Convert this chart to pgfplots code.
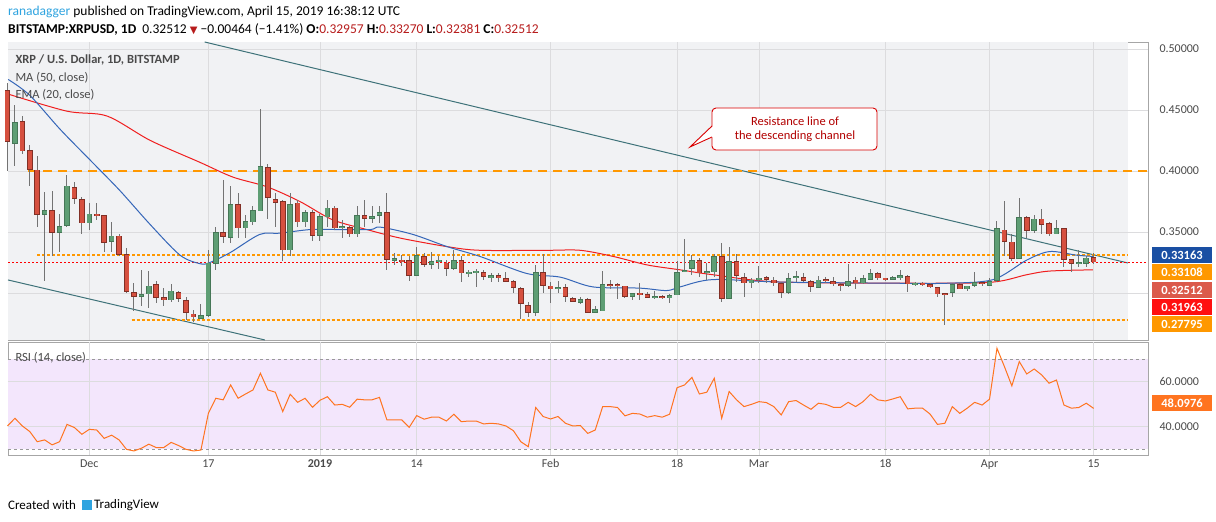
\documentclass[border=0pt]{standalone}
\usepackage{pgfplots}
\usepackage{pgfplotstable}
\pgfplotsset{compat=1.18}
\usepackage{fontspec}
\setmainfont{Carlito}
\newfontfamily\dejavu{DejaVu Sans}
\definecolor{gbody}{HTML}{5E9E74}
\definecolor{rbody}{HTML}{D6503F}
\definecolor{wick}{HTML}{737373}
\definecolor{emab}{HTML}{3566B8}
\definecolor{mar}{HTML}{F01E1E}
\definecolor{chan}{HTML}{3E7279}
\definecolor{org}{HTML}{FF9800}
\definecolor{panel}{HTML}{F1F2F4}
\definecolor{gridc}{HTML}{DCDCDE}
\definecolor{txt}{HTML}{4A4A4A}
\definecolor{rsif}{HTML}{F3E6FC}
\definecolor{rsil}{HTML}{FF7420}
\definecolor{tvblue}{HTML}{2FA4E0}
\definecolor{valred}{HTML}{B71C1C}
\definecolor{bxa}{HTML}{1A4FA3}
\definecolor{bxb}{HTML}{FF9800}
\definecolor{bxc}{HTML}{DB5A4B}
\definecolor{bxd}{HTML}{FF1010}

\pgfplotstableread{
d o h l c
0 .466 .472 .400 .424
1 .422 .454 .404 .440
2 .441 .445 .414 .416
3 .417 .421 .388 .401
4 .401 .412 .354 .364
5 .364 .383 .310 .368
6 .368 .384 .330 .349
7 .349 .365 .334 .355
8 .355 .397 .354 .388
9 .387 .391 .373 .377
10 .377 .379 .348 .357
11 .357 .374 .352 .365
12 .365 .374 .360 .363
13 .364 .364 .334 .341
14 .342 .358 .334 .347
15 .347 .348 .330 .331
16 .332 .337 .300 .301
17 .301 .308 .285 .297
18 .297 .319 .289 .299
19 .299 .318 .288 .306
20 .307 .310 .292 .296
21 .296 .304 .289 .295
22 .294 .307 .293 .302
23 .301 .302 .293 .295
24 .294 .297 .278 .284
25 .283 .286 .276 .280
26 .279 .291 .279 .282
27 .281 .335 .280 .325
28 .324 .354 .319 .350
29 .350 .393 .341 .346
30 .345 .388 .341 .373
31 .373 .382 .345 .353
32 .353 .364 .345 .359
33 .358 .371 .356 .368
34 .367 .451 .367 .404
35 .403 .406 .361 .378
36 .377 .382 .354 .374
37 .375 .376 .326 .335
38 .335 .382 .330 .373
39 .374 .376 .354 .358
40 .358 .368 .354 .366
41 .366 .368 .343 .347
42 .347 .365 .343 .363
43 .362 .376 .354 .370
44 .370 .371 .352 .353
45 .353 .360 .345 .355
46 .354 .355 .346 .348
47 .348 .371 .346 .364
48 .364 .376 .354 .361
49 .361 .371 .357 .363
50 .363 .371 .357 .366
51 .366 .382 .319 .327
52 .327 .333 .323 .328
53 .327 .331 .322 .326
54 .327 .330 .310 .314
55 .314 .338 .314 .331
56 .330 .333 .321 .323
57 .323 .334 .320 .326
58 .326 .330 .320 .327
59 .325 .327 .314 .320
60 .320 .335 .319 .327
61 .327 .330 .309 .316
62 .316 .319 .313 .317
63 .317 .320 .305 .3175
64 .317 .319 .311 .313
65 .313 .316 .309 .314
66 .314 .316 .309 .313
67 .312 .317 .309 .309
68 .310 .311 .300 .304
69 .304 .305 .279 .291
70 .290 .293 .280 .284
71 .284 .323 .281 .317
72 .317 .332 .300 .306
73 .306 .309 .292 .303
74 .303 .310 .300 .305
75 .305 .307 .293 .297
76 .296 .297 .293 .293
77 .292 .297 .291 .295
78 .295 .296 .284 .284
79 .284 .289 .284 .287
80 .285 .318 .285 .307
81 .307 .311 .303 .306
82 .307 .308 .295 .306
83 .306 .306 .296 .297
84 .297 .300 .294 .300
85 .300 .308 .294 .299
86 .299 .301 .296 .296
87 .296 .302 .295 .297
88 .297 .298 .295 .296
89 .296 .299 .292 .298
90 .298 .326 .298 .317
91 .317 .344 .317 .319
92 .320 .331 .315 .327
93 .327 .329 .313 .316
94 .316 .325 .311 .318
95 .317 .332 .313 .330
96 .330 .341 .293 .295
97 .295 .338 .295 .326
98 .326 .332 .309 .314
99 .313 .316 .297 .308
100 .308 .312 .304 .311
101 .311 .322 .308 .312
102 .313 .314 .308 .311
103 .311 .313 .306 .308
104 .308 .309 .296 .300
105 .300 .316 .299 .312
106 .312 .318 .309 .314
107 .313 .316 .309 .310
108 .310 .311 .301 .305
109 .304 .314 .304 .311
110 .311 .313 .308 .310
111 .310 .313 .306 .307
112 .307 .308 .302 .306
113 .306 .324 .305 .310
114 .311 .313 .303 .308
115 .308 .315 .307 .312
116 .311 .320 .311 .316
117 .316 .317 .311 .312
118 .312 .312 .310 .311
119 .311 .314 .311 .313
120 .313 .319 .311 .314
121 .314 .315 .301 .307
122 .307 .309 .306 .308
123 .308 .309 .306 .307
124 .307 .308 .304 .305
125 .305 .305 .297 .299
126 .2992 .2995 .274 .299
127 .300 .308 .297 .307
128 .307 .308 .303 .303
129 .303 .306 .302 .306
130 .306 .317 .305 .309
131 .309 .309 .306 .307
132 .306 .312 .306 .310
133 .310 .359 .309 .353
134 .352 .375 .330 .342
135 .342 .348 .326 .328
136 .328 .378 .329 .362
137 .362 .363 .345 .351
138 .351 .364 .349 .361
139 .361 .369 .348 .356
140 .357 .358 .347 .348
141 .348 .360 .348 .353
142 .353 .353 .321 .327
143 .328 .328 .317 .324
144 .324 .335 .321 .325
145 .324 .330 .321 .329
146 .3296 .3327 .3238 .3251
}\candles

\pgfplotstableread{
d v
0 40.3
1 43.7
2 40.3
3 37.8
4 33.3
5 34.1
6 31.9
7 33.3
8 41.0
9 39.6
10 36.6
11 38.8
12 38.5
13 34.8
14 36.2
15 34.1
16 29.9
17 29.2
18 30.4
19 32.2
20 30.7
21 30.7
22 33.0
23 31.6
24 29.9
25 29.2
26 29.6
27 45.9
28 52.6
29 51.9
30 58.5
31 52.6
32 54.5
33 56.3
34 63.7
35 56.3
36 55.3
37 46.7
38 54.4
39 50.8
40 52.6
41 48.6
42 51.7
43 53.3
44 49.6
45 49.9
46 48.6
47 52.2
48 51.9
49 51.9
50 53.0
51 43.0
52 43.0
53 43.0
54 39.7
55 44.9
56 43.3
57 44.2
58 44.2
59 42.5
60 45.5
61 42.2
62 42.5
63 42.5
64 41.2
65 41.5
66 41.2
67 40.3
68 38.2
69 33.3
70 31.1
71 48.5
72 44.5
73 43.4
74 44.5
75 41.5
76 40.3
77 40.5
78 37.0
79 38.5
80 48.9
81 48.9
82 48.5
83 44.8
84 45.9
85 45.6
86 44.2
87 44.9
88 44.2
89 45.5
90 57.3
91 58.5
92 61.9
93 54.5
94 55.3
95 61.5
96 43.7
97 55.6
98 51.9
99 48.9
100 49.9
101 51.1
102 50.7
103 48.9
104 45.2
105 51.1
106 51.6
107 49.6
108 47.7
109 50.4
110 49.9
111 48.6
112 48.6
113 50.8
114 48.9
115 51.1
116 54.4
117 51.9
118 51.4
119 52.3
120 53.3
121 47.9
122 48.2
123 48.2
124 45.6
125 41.0
126 41.5
127 48.9
128 45.9
129 48.2
130 50.8
131 49.6
132 52.2
133 74.8
134 66.7
135 58.1
136 68.9
137 63.4
138 65.6
139 63.0
140 59.3
141 60.7
142 49.6
143 48.2
144 48.5
145 50.4
146 48.1
}\rsi

\pgfplotstableread{
d v
0.1 0.475
3.0 0.462
7.1 0.434
11.1 0.409
15.1 0.384
19.2 0.356
23.2 0.331
25.9 0.324
27.2 0.325
29.9 0.333
33.9 0.348
36.6 0.349
40.7 0.352
44.7 0.352
48.8 0.352
50.1 0.354
54.5 0.348
59.1 0.338
63.5 0.330
69.8 0.316
74.3 0.313
78.7 0.305
85.0 0.304
88.6 0.302
90.4 0.305
94.8 0.311
103.8 0.309
120 0.308
126.3 0.308
132.5 0.311
137.0 0.327
140.1 0.334
143.7 0.331
145.9 0.330
}\ema

\pgfplotstableread{
d v
0.1 0.463
8.0 0.449
13.4 0.445
19.2 0.425
25.9 0.407
30.3 0.395
34.9 0.387
39.3 0.375
43.7 0.360
48.3 0.352
52.8 0.345
59.1 0.338
63.5 0.335
72.5 0.335
77.0 0.335
81.4 0.330
86.0 0.323
90.4 0.319
94.8 0.315
103.8 0.309
123.6 0.308
132.5 0.309
137.0 0.315
140.1 0.318
145.9 0.319
}\ma

\begin{document}
\begin{tikzpicture}[x=1pt,y=1pt]
\fill[white] (0pt,0pt) rectangle (1216pt,522pt);
% price panel
\begin{axis}[at={(8pt,182pt)}, anchor=origin, scale only axis,
  width=1140pt, height=298pt,
  xmin=0.07, xmax=153.3, ymin=0.2615, ymax=0.5057,
  axis line style={draw=gray!70}, tick style={draw=none},
  xtick={11,27,42,55,73,90,101,118,132,146}, xticklabels={},
  ytick={0.35,0.40,0.45,0.50},
  yticklabel pos=right,
  yticklabel style={font=\fontsize{12}{14}\selectfont, text=txt, xshift=8pt},
  /pgf/number format/.cd, fixed, fixed zerofill, precision=5, assume math mode=true,
  /pgfplots/.cd, clip=false]
  \fill[panel] (axis cs:0.07,0.2615) rectangle (axis cs:150.6,0.5057);
  \draw[gridc, line width=0.6pt] \foreach \t in {11,27,42,55,73,90,101,118,132,146} {(axis cs:\t,0.2615) -- (axis cs:\t,0.5057)};
  \draw[gridc, line width=0.6pt] \foreach \p in {0.30,0.35,0.40,0.45,0.50} {(axis cs:0.07,\p) -- (axis cs:153.3,\p)};
  \addplot[chan, line width=1pt] coordinates {(26.5,0.5057) (150.6,0.3246)};
  \addplot[chan, line width=1pt] coordinates {(0.07,0.3107) (34.6,0.2615)};
  \addplot[org, line width=1.8pt, dash pattern=on 9pt off 6pt] coordinates {(2.8,0.40) (153.3,0.40)};
  \addplot[org, line width=1.8pt, dash pattern=on 3pt off 2pt] coordinates {(4,0.3311) (150.6,0.3311)};
  \addplot[org, line width=1.8pt, dash pattern=on 3pt off 2pt] coordinates {(16.7,0.27795) (150.6,0.27795)};
  \addplot[red, line width=0.8pt, dash pattern=on 2pt off 2pt] coordinates {(0.07,0.32512) (153.3,0.32512)};
  \addplot[mar, line width=1pt, smooth] table[x=d,y=v] {\ma};
  \addplot[emab, line width=1pt, smooth] table[x=d,y=v] {\ema};
  \addplot[draw=none, mark=none, error bars/.cd, y dir=both, y explicit,
    error mark=none, error bar style={wick, line width=1pt}]
    table[x=d, y expr=(\thisrow{h}+\thisrow{l})/2, y error expr=(\thisrow{h}-\thisrow{l})/2] {\candles};
  \addplot[draw=none, mark=none, unbounded coords=discard,
    x filter/.expression={\thisrow{c}>=\thisrow{o} ? x : nan},
    error bars/.cd, y dir=both, y explicit, error mark=none,
    error bar style={gbody!75!black, line width=5.6pt}]
    table[x=d, y expr=(\thisrow{o}+\thisrow{c})/2, y error expr={max(abs(\thisrow{o}-\thisrow{c})/2,0.0009)}] {\candles};
  \addplot[draw=none, mark=none, unbounded coords=discard,
    x filter/.expression={\thisrow{c}>=\thisrow{o} ? x : nan},
    error bars/.cd, y dir=both, y explicit, error mark=none,
    error bar style={gbody, line width=4pt}]
    table[x=d, y expr=(\thisrow{o}+\thisrow{c})/2, y error expr={max(abs(\thisrow{o}-\thisrow{c})/2-0.0006,0.0004)}] {\candles};
  \addplot[draw=none, mark=none, unbounded coords=discard,
    x filter/.expression={\thisrow{c}<\thisrow{o} ? x : nan},
    error bars/.cd, y dir=both, y explicit, error mark=none,
    error bar style={rbody!60!black, line width=5.6pt}]
    table[x=d, y expr=(\thisrow{o}+\thisrow{c})/2, y error expr={max(abs(\thisrow{o}-\thisrow{c})/2,0.0009)}] {\candles};
  \addplot[draw=none, mark=none, unbounded coords=discard,
    x filter/.expression={\thisrow{c}<\thisrow{o} ? x : nan},
    error bars/.cd, y dir=both, y explicit, error mark=none,
    error bar style={rbody, line width=4pt}]
    table[x=d, y expr=(\thisrow{o}+\thisrow{c})/2, y error expr={max(abs(\thisrow{o}-\thisrow{c})/2-0.0006,0.0004)}] {\candles};
\end{axis}
% RSI panel
\begin{axis}[at={(8pt,67pt)}, anchor=origin, scale only axis,
  width=1140pt, height=113pt,
  xmin=0.07, xmax=153.3, ymin=27.4, ymax=77.6,
  axis line style={draw=gray!70}, tick style={draw=none},
  xtick={11,27,42,55,73,90,101,118,132,146},
  xticklabels={Dec,17,\textbf{2019},14,Feb,18,Mar,18,Apr,15},
  xticklabel style={font=\fontsize{12}{14}\selectfont, text=txt, yshift=-1pt},
  ytick={40,60}, yticklabel pos=right,
  yticklabel style={font=\fontsize{12}{14}\selectfont, text=txt, xshift=8pt},
  /pgf/number format/.cd, fixed, fixed zerofill, precision=4, assume math mode=true,
  /pgfplots/.cd, clip=false]
  \fill[rsif] (axis cs:0.07,30) rectangle (axis cs:153.3,70);
  \draw[gridc, line width=0.6pt] \foreach \t in {11,27,42,55,73,90,101,118,132,146} {(axis cs:\t,27.4) -- (axis cs:\t,77.6)};
  \draw[gridc, line width=0.6pt] \foreach \p in {40,60} {(axis cs:0.07,\p) -- (axis cs:153.3,\p)};
  \addplot[gray!80, line width=0.8pt, dashed] coordinates {(0.07,70) (153.3,70)};
  \addplot[gray!80, line width=0.8pt, dashed] coordinates {(0.07,30) (153.3,30)};
  \addplot[rsil, line width=1pt] table[x=d,y=v] {\rsi};
\end{axis}
\foreach \yy/\cc/\tt in {267/bxa/0.33163, 250/bxb/0.33108, 232/bxc/0.32512, 215/bxd/0.31963, 198/bxb/0.27795}{
  \node[fill=\cc, text=white, font=\fontsize{12.5}{14}\selectfont\bfseries, minimum width=60pt, minimum height=16pt, inner sep=1pt] at (1182pt,\yy pt) {\tt};
}
\node[fill=rsil, text=white, font=\fontsize{12.5}{14}\selectfont\bfseries, minimum width=60pt, minimum height=16pt, inner sep=1pt] at (1182pt,119pt) {48.0976};
\node[anchor=west, text=txt, font=\fontsize{12.5}{14}\selectfont\bfseries] at (12pt,462pt) {XRP / U.S. Dollar, 1D, BITSTAMP};
\node[anchor=west, text=txt, font=\fontsize{12.5}{14}\selectfont] at (12pt,444pt) {MA (50, close)};
\node[anchor=west, text=txt, font=\fontsize{12.5}{14}\selectfont] at (12pt,427pt) {EMA (20, close)};
\node[anchor=west, text=txt, font=\fontsize{12.5}{14}\selectfont] at (12pt,164pt) {RSI (14, close)};
\draw[red!85!black, line width=0.9pt, fill=white, rounded corners=4pt] (712pt,372pt) rectangle (877pt,414pt);
\fill[white] (713pt,385pt) -- (713pt,396pt) -- (690pt,375pt) -- cycle;
\draw[red!85!black, line width=0.9pt] (712pt,396pt) -- (690pt,375pt) -- (712pt,385pt);
\node[align=center, text=red!70!black, font=\fontsize{12.5}{14}\selectfont] at (795pt,393pt) {Resistance line of\\the descending channel};
\node[anchor=west, font=\fontsize{13.5}{15}\selectfont, inner sep=0] at (8pt,510pt) {\textcolor{tvblue}{ranadagger} published on TradingView.com, April 15, 2019 16:38:12 UTC};
\node[anchor=west, font=\fontsize{13.5}{15}\selectfont, inner sep=0] at (8pt,492pt) {\textbf{BITSTAMP:XRPUSD, 1D}\ \ 0.32512 \textcolor{valred}{\dejavu\fontsize{10}{12}\selectfont▼} −0.00464 (−1.41\%) \textbf{O:}\textcolor{valred}{0.32957} \textbf{H:}\textcolor{valred}{0.33270} \textbf{L:}\textcolor{valred}{0.32381} \textbf{C:}\textcolor{valred}{0.32512}};
\node[anchor=west, font=\fontsize{13}{15}\selectfont, inner sep=0] at (8pt,17pt) {Created with};
\fill[tvblue] (82pt,12pt) rectangle (92pt,22pt);
\node[anchor=west, font=\fontsize{13}{15}\selectfont, inner sep=0] at (94pt,17pt) {TradingView};
\end{tikzpicture}
\end{document}
